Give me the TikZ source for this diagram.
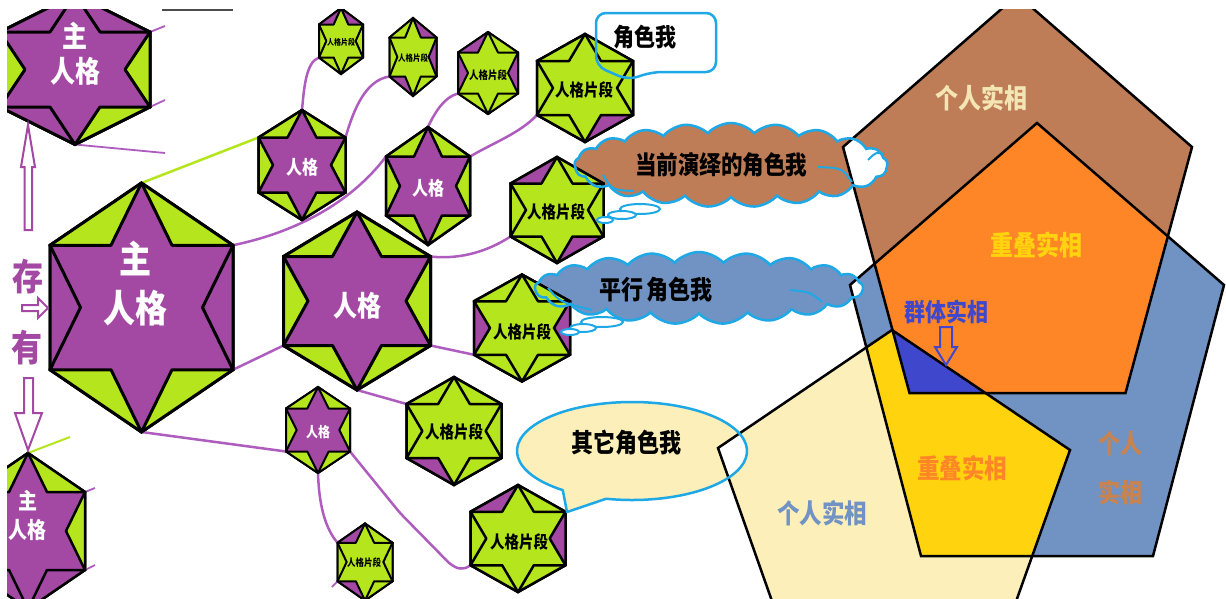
\documentclass[tikz,border=0pt]{standalone}
\usepackage{fontspec}
\usepackage{graphicx}
\newfontfamily\cjk{Noto Sans CJK SC}
\usetikzlibrary{shapes.symbols,calc}
\definecolor{pu}{HTML}{A349A4}
\definecolor{li}{HTML}{B5E61D}
\definecolor{lc}{HTML}{AE5DBE}
\definecolor{br}{HTML}{BE7C57}
\definecolor{bg}{HTML}{7193C3}
\definecolor{ly}{HTML}{FCEFBA}
\definecolor{og}{HTML}{FF8626}
\definecolor{gd}{HTML}{FFD40F}
\definecolor{ind}{HTML}{3F48CC}
\definecolor{cy}{HTML}{1FA8E6}
\definecolor{pt}{HTML}{F3E6B4}
\definecolor{bt}{HTML}{C8834F}
\newcommand\st[1]{\scalebox{1}[1.18]{#1}}
\newcommand\twol[2]{\begin{tabular}{@{}c@{}}#1\\#2\end{tabular}}
% name, cx, cy, half width, half height, star colour, corner colours (TR,R,BR,BL,L,TL)
\newcommand\hexstar[7]{%
  \coordinate (#1) at (#2,#3);
  \coordinate (#1-0) at (#2,{#3-#5});
  \coordinate (#1-1) at ({#2+#4},{#3-#5/2});
  \coordinate (#1-2) at ({#2+#4},{#3+#5/2});
  \coordinate (#1-3) at (#2,{#3+#5});
  \coordinate (#1-4) at ({#2-#4},{#3+#5/2});
  \coordinate (#1-5) at ({#2-#4},{#3-#5/2});
  \foreach \i/\j in {0/1,1/2,2/3,3/4,4/5,5/0}{
    \coordinate (#1-i\i) at (barycentric cs:#1=1,#1-\i=1,#1-\j=1);
  }
  \foreach \c [count=\k from 0] in {#7}{%
    \pgfmathtruncatemacro\kk{mod(\k+1,6)}%
    \fill[\c] (#1-\k) -- (#1-i\k) -- (#1-\kk) -- cycle;
  }
  \filldraw[fill=#6,draw=black,line join=round] (#1-0) -- (#1-i0) -- (#1-1) -- (#1-i1) -- (#1-2) -- (#1-i2) -- (#1-3) -- (#1-i3) -- (#1-4) -- (#1-i4) -- (#1-5) -- (#1-i5) -- cycle;
  \draw[line join=miter] (#1-0) -- (#1-1) -- (#1-2) -- (#1-3) -- (#1-4) -- (#1-5) -- cycle;
}
\begin{document}
\begin{tikzpicture}[x=1pt,y=-1pt,
  lab/.style 2 args={inner sep=0pt, font=\cjk\bfseries\fontsize{#1}{#2}\selectfont},
  wl/.style={text=white},
  conn/.style={draw=lc, line width=2.5pt},
  limeline/.style={draw=li, line width=2.5pt},
  pline/.style={draw=black, line width=2.5pt, line join=miter},
  cloudsh/.style={cloud, cloud puffs=21, cloud puff arc=95, cloud ignores aspect, inner sep=0pt},
  cyline/.style={draw=cy, line width=2.5pt},
  arrowst/.style={draw=pu, line width=2pt, fill=white, line join=miter},
]
\useasboundingbox (0,0) rectangle (1226,598);
\fill[white] (0,0) rectangle (1226,598);
\begin{scope}
\clip (7,9) rectangle (1226,598);
% ---------- pentagons ----------
\coordinate (B0) at (1017.5,-5);
\coordinate (B1) at (1192,147);
\coordinate (B2) at (1125.5,393);
\coordinate (B3) at (909.5,393);
\coordinate (B4) at (843,147);
\coordinate (U0) at (1037,123);
\coordinate (U1) at (1224,285);
\coordinate (U2) at (1153,556);
\coordinate (U3) at (921,556);
\coordinate (U4) at (850,285);
\coordinate (Y0) at (892,330);
\coordinate (Y1) at (1070,450);
\coordinate (Y2) at (1003,638);
\coordinate (Y3) at (785,638);
\coordinate (Y4) at (718,448);
\fill[br] (B0) -- (B1) -- (B2) -- (B3) -- (B4) -- cycle;
\fill[bg] (U0) -- (U1) -- (U2) -- (U3) -- (U4) -- cycle;
\fill[ly] (Y0) -- (Y1) -- (Y2) -- (Y3) -- (Y4) -- cycle;
\begin{scope}
  \clip (B0) -- (B1) -- (B2) -- (B3) -- (B4) -- cycle;
  \fill[og] (U0) -- (U1) -- (U2) -- (U3) -- (U4) -- cycle;
\end{scope}
\begin{scope}
  \clip (U0) -- (U1) -- (U2) -- (U3) -- (U4) -- cycle;
  \fill[gd] (Y0) -- (Y1) -- (Y2) -- (Y3) -- (Y4) -- cycle;
\end{scope}
\begin{scope}
  \clip (B0) -- (B1) -- (B2) -- (B3) -- (B4) -- cycle;
  \fill[ind] (Y0) -- (Y1) -- (Y2) -- (Y3) -- (Y4) -- cycle;
\end{scope}
% ---------- cloud fills ----------
\node[cloudsh, fill=br, minimum width=313pt, minimum height=84pt] (c1) at (731,165) {};
\begin{scope}
  \clip (B0) -- (B1) -- (B2) -- (B3) -- (B4) -- cycle;
  \node[cloudsh, fill=white, minimum width=313pt, minimum height=84pt] (c1w) at (731,165) {};
\end{scope}
\node[cloudsh, fill=bg, minimum width=328pt, minimum height=72pt] (c2) at (699,288) {};
\begin{scope}
  \clip (U0) -- (U1) -- (U2) -- (U3) -- (U4) -- cycle;
  \node[cloudsh, fill=white, minimum width=328pt, minimum height=72pt] (c2w) at (699,288) {};
\end{scope}
\coordinate (e3) at (632,451);
\coordinate (e3tip) at (567,512);
\path (e3) ++(127:115 and 49) coordinate (e3a);
\fill[ly] (e3a) arc[start angle=127, end angle=463, x radius=115, y radius=49] -- (e3tip) -- cycle;
\begin{scope}
  \clip (Y0) -- (Y1) -- (Y2) -- (Y3) -- (Y4) -- cycle;
  \fill[white] (e3) ellipse[x radius=115, y radius=49];
\end{scope}
% ---------- pentagon outlines ----------
\draw[pline] (B0) -- (B1) -- (B2) -- (B3) -- (B4) -- cycle;
\draw[pline] (U0) -- (U1) -- (U2) -- (U3) -- (U4) -- cycle;
\draw[pline] (Y0) -- (Y1) -- (Y2) -- (Y3) -- (Y4) -- cycle;
% ---------- hexagram coordinates (first pass defines the vertices) ----------
\begin{scope}[line width=3pt]
\hexstar{H1}{75}{69.5}{75}{75}{pu}{pu,li,li,pu,li,pu}
\hexstar{H2}{141.5}{307.5}{91.5}{124.5}{pu}{li,pu,li,li,pu,li}
\hexstar{H6}{357}{301}{73.5}{89}{pu}{li,li,li,li,li,li}
\end{scope}
\begin{scope}[line width=2.5pt]
\hexstar{H3}{28}{531}{57}{78}{pu}{li,li,pu,pu,li,li}
\hexstar{H4}{302}{165}{43.5}{55}{pu}{li,li,li,li,li,li}
\hexstar{H5}{428}{186}{42}{59}{pu}{li,li,li,li,li,li}
\hexstar{P11}{585}{88}{48}{54}{li}{li,li,pu,li,li,li}
\hexstar{P12}{557}{210}{46.5}{53}{li}{li,li,pu,li,li,pu}
\hexstar{P13}{522}{328}{48}{53.5}{li}{li,pu,li,li,pu,li}
\hexstar{P14}{454}{431}{47.5}{54}{li}{li,li,li,pu,li,li}
\hexstar{P15}{518}{538.5}{47.5}{53.5}{li}{li,pu,li,li,li,pu}
\end{scope}
\begin{scope}[line width=2pt]
\hexstar{H7}{318}{430}{32}{43}{pu}{li,li,li,li,li,li}
\hexstar{P8}{341}{41}{22}{33}{li}{pu,li,li,li,li,pu}
\hexstar{P9}{413}{57}{23.5}{39}{li}{pu,pu,li,pu,li,li}
\hexstar{P10}{488}{73}{30}{41}{li}{li,pu,li,li,pu,pu}
\hexstar{P16}{365}{562}{27.5}{38.5}{li}{li,li,li,pu,li,pu}
\end{scope}
% ---------- connectors ----------
\coordinate (s1) at (165,26);
\coordinate (s2) at (165,100);
\coordinate (s3) at (165,153);
\coordinate (s4) at (70,437);
\coordinate (s5) at (95,488);
\coordinate (s6) at (95,565);
\coordinate (s7) at (332,587);
\draw[conn, line width=1.8pt] (H1-1) -- (s1);
\draw[conn, line width=1.8pt] (H1-2) -- (s2);
\draw[conn, line width=1.8pt] (H1-3) -- (s3);
\draw[limeline] (H2-0) -- (H4-5);
\draw[conn] (H2-1) .. controls (330,225) and (372,175) .. (H5-5);
\draw[conn] (H2-2) -- (H6-4);
\draw[conn] (H2-3) -- (H7-4);
\draw[limeline, line width=2pt] (H3-0) -- (s4);
\draw[conn, line width=1.8pt] (H3-1) -- (s5);
\draw[conn, line width=1.8pt] (H3-2) -- (s6);
\draw[conn] (H4-0) .. controls (304,88) and (306,62) .. (P8-4);
\draw[conn] (H4-1) .. controls (354,108) and (366,80) .. (P9-4);
\draw[conn] (H5-0) .. controls (436,110) and (445,97) .. (P10-4);
\draw[conn] (H5-1) .. controls (495,142) and (520,133) .. (P11-4);
\draw[conn] (H6-1) .. controls (462,260) and (490,250) .. (P12-4);
\draw[conn] (H6-2) -- (P13-4);
\draw[conn] (H6-3) -- (P14-5);
\draw[conn] (H7-3) .. controls (319,505) and (325,528) .. (P16-5);
\draw[conn, rounded corners=6pt] (H7-2) -- (400,513) -- (452,566) -- (463,570) -- (P15-4);
\draw[conn, line width=1.8pt] (P16-4) -- (s7);
% redraw hexagrams on top of connector ends
\begin{scope}[line width=3pt]
\hexstar{H1}{75}{69.5}{75}{75}{pu}{pu,li,li,pu,li,pu}
\hexstar{H2}{141.5}{307.5}{91.5}{124.5}{pu}{li,pu,li,li,pu,li}
\hexstar{H6}{357}{301}{73.5}{89}{pu}{li,li,li,li,li,li}
\end{scope}
\begin{scope}[line width=2.5pt]
\hexstar{H3}{28}{531}{57}{78}{pu}{li,li,pu,pu,li,li}
\hexstar{H4}{302}{165}{43.5}{55}{pu}{li,li,li,li,li,li}
\hexstar{H5}{428}{186}{42}{59}{pu}{li,li,li,li,li,li}
\hexstar{P11}{585}{88}{48}{54}{li}{li,li,pu,li,li,li}
\hexstar{P12}{557}{210}{46.5}{53}{li}{li,li,pu,li,li,pu}
\hexstar{P13}{522}{328}{48}{53.5}{li}{li,pu,li,li,pu,li}
\hexstar{P14}{454}{431}{47.5}{54}{li}{li,li,li,pu,li,li}
\hexstar{P15}{518}{538.5}{47.5}{53.5}{li}{li,pu,li,li,li,pu}
\end{scope}
\begin{scope}[line width=2pt]
\hexstar{H7}{318}{430}{32}{43}{pu}{li,li,li,li,li,li}
\hexstar{P8}{341}{41}{22}{33}{li}{pu,li,li,li,li,pu}
\hexstar{P9}{413}{57}{23.5}{39}{li}{pu,pu,li,pu,li,li}
\hexstar{P10}{488}{73}{30}{41}{li}{li,pu,li,li,pu,pu}
\hexstar{P16}{365}{562}{27.5}{38.5}{li}{li,li,li,pu,li,pu}
\end{scope}
\draw[black!70, line width=1.5pt] (162,10) -- (233,10);
% ---------- callout outlines ----------
\node[cloudsh, cyline, minimum width=313pt, minimum height=84pt] (c1o) at (731,165) {};
\draw[cyline, line width=2pt] (603,175) .. controls (612,190) .. (634,191);
\draw[cyline, line width=2pt] (818,167) .. controls (842,168) .. (852,182);
\draw[cyline, line width=2pt] (868,160) .. controls (876,152) .. (884,154);
\draw[cyline, line width=2pt, fill=white] (640,209) ellipse[x radius=20, y radius=5];
\draw[cyline, line width=2pt, fill=white] (622,215) ellipse[x radius=14, y radius=4];
\draw[cyline, line width=2pt, fill=white] (605,220) ellipse[x radius=8, y radius=3];
\node[cloudsh, cyline, minimum width=328pt, minimum height=72pt] (c2o) at (699,288) {};
\draw[cyline, line width=2pt] (548,288) .. controls (560,302) .. (592,310);
\draw[cyline, line width=2pt] (790,290) .. controls (810,292) .. (822,302);
\draw[cyline, line width=2pt, fill=white] (602,322) ellipse[x radius=21, y radius=5];
\draw[cyline, line width=2pt, fill=white] (583,328) ellipse[x radius=13, y radius=4];
\draw[cyline, line width=2pt, fill=white] (570,332) ellipse[x radius=9, y radius=3];
\draw[cyline, line join=round] (e3a) arc[start angle=127, end angle=463, x radius=115, y radius=49] -- (e3tip) -- cycle;
\draw[cyline, rounded corners=10pt] (596,13) -- (716,13) -- (716,72) -- (652,72) -- (628,80) -- (596,66) -- cycle;
% ---------- arrows ----------
\draw[arrowst] (28,125) -- (35,167) -- (32,167) -- (32,230) -- (24.5,230) -- (24.5,167) -- (21,167) -- cycle;
\draw[arrowst] (24,378) -- (33,378) -- (33,413) -- (42,413) -- (28,450) -- (15,413) -- (24,413) -- cycle;
\draw[arrowst] (22,305) -- (38,305) -- (38,298) -- (48,308) -- (38,318) -- (38,311) -- (22,311) -- cycle;
\draw[draw=ind, fill=og, line width=2pt, line join=miter] (940,327) -- (952,327) -- (952,347) -- (957,347) -- (946,365) -- (935,347) -- (940,347) -- cycle;
% ---------- labels ----------
\node[lab={25}{26}, wl] (H1-t) at (75,57) {\st{\twol{主}{人格}}};
\node[lab={32}{42}, wl] (H2-t) at (135,288) {\st{\twol{主}{人格}}};
\node[lab={19}{25}, wl] (H3-t) at (28,518) {\st{\twol{主}{人格}}};
\node[lab={16}{16}, wl] (H4-t) at (302,167) {\st{人格}};
\node[lab={16}{16}, wl] (H5-t) at (428,188) {\st{人格}};
\node[lab={24}{24}, wl] (H6-t) at (357,306) {\st{人格}};
\node[lab={12}{12}, wl] (H7-t) at (318,432) {\st{人格}};
\node[lab={7}{7}] (P8-t) at (341,42) {\st{人格片段}};
\node[lab={7.5}{7.5}] (P9-t) at (413,58) {\st{人格片段}};
\node[lab={9.5}{9.5}] (P10-t) at (488,75) {\st{人格片段}};
\node[lab={14.5}{14.5}] (P11-t) at (584,90) {\st{人格片段}};
\node[lab={14.5}{14.5}] (P12-t) at (556,212) {\st{人格片段}};
\node[lab={14.5}{14.5}] (P13-t) at (522,332) {\st{人格片段}};
\node[lab={14.5}{14.5}] (P14-t) at (454,432) {\st{人格片段}};
\node[lab={14.5}{14.5}] (P15-t) at (519,542) {\st{人格片段}};
\node[lab={8.5}{8.5}] (P16-t) at (364,563) {\st{人格片段}};
\node[lab={21}{21}] (t-jsw) at (645,37) {\st{角色我}};
\node[lab={21.5}{21.5}] (t-dq) at (721,165) {\st{当前演绎的角色我}};
\node[lab={22}{22}] (t-px) at (656,290) {\st{平行\hspace{4pt}角色我}};
\node[lab={22}{22}] (t-qt) at (626,443) {\st{其它角色我}};
\node[lab={23}{23}, text=pt] (t-g1) at (981,98) {\st{个人实相}};
\node[lab={23}{23}, text=gd] (t-cd1) at (1036,245) {\st{重叠实相}};
\node[lab={21}{21}, text=ind] (t-qf) at (946,312) {\st{群体实相}};
\node[lab={22.5}{22.5}, text=og] (t-cd2) at (962,468) {\st{重叠实相}};
\node[lab={22}{42}, text=bt] (t-g2) at (1120,468) {\st{\twol{个人}{实相}}};
\node[lab={22.5}{22.5}, text=bg] (t-g3) at (822,513) {\st{个人实相}};
\node[lab={31}{31}, text=pu] (t-cun) at (28,277) {\st{存}};
\node[lab={31}{31}, text=pu] (t-you) at (27,348) {\st{有}};
\end{scope}
\end{tikzpicture}
\end{document}
